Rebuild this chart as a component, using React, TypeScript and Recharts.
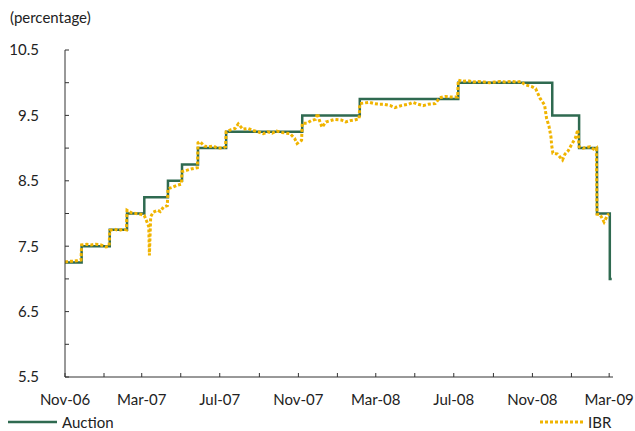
import { LineChart, Line, XAxis, YAxis } from 'recharts';

const auctionDates = [
  '2006-11-01', '2006-11-27', '2007-01-10', '2007-02-06', '2007-03-05', '2007-04-11',
  '2007-05-03', '2007-05-28', '2007-07-11', '2007-11-07', '2008-02-05', '2008-07-08',
  '2008-12-02', '2009-01-13', '2009-02-10', '2009-03-02', '2009-03-05',
];
const auctionRates = [
  7.25, 7.5, 7.75, 8.0, 8.25, 8.5, 8.75, 9.0, 9.25, 9.5, 9.75, 10.0, 9.5, 9.0, 8.0, 7.0, 7.0,
];

const ibrDates = [
  '2006-11-01', '2006-11-08', '2006-11-15', '2006-11-21', '2006-11-26', '2006-11-27',
  '2006-12-05', '2006-12-12', '2006-12-19', '2006-12-27', '2007-01-04', '2007-01-09',
  '2007-01-10', '2007-01-17', '2007-01-24', '2007-01-31', '2007-02-05', '2007-02-06',
  '2007-02-13', '2007-02-20', '2007-02-27', '2007-03-05', '2007-03-08', '2007-03-10',
  '2007-03-12', '2007-03-13', '2007-03-15', '2007-03-19', '2007-03-26', '2007-03-30',
  '2007-04-04', '2007-04-10', '2007-04-11', '2007-04-18', '2007-04-25', '2007-05-02',
  '2007-05-03', '2007-05-10', '2007-05-17', '2007-05-27', '2007-05-28', '2007-05-31',
  '2007-06-07', '2007-06-14', '2007-06-21', '2007-06-28', '2007-07-05', '2007-07-10',
  '2007-07-11', '2007-07-18', '2007-07-25', '2007-07-30', '2007-08-06', '2007-08-14',
  '2007-08-22', '2007-08-30', '2007-09-07', '2007-09-14', '2007-09-21', '2007-09-28',
  '2007-10-05', '2007-10-12', '2007-10-19', '2007-10-26', '2007-10-30', '2007-11-06',
  '2007-11-07', '2007-11-14', '2007-11-21', '2007-11-28', '2007-12-01', '2007-12-04',
  '2007-12-08', '2007-12-14', '2007-12-21', '2007-12-28', '2008-01-07', '2008-01-14',
  '2008-01-21', '2008-01-28', '2008-02-04', '2008-02-05', '2008-02-12', '2008-02-20',
  '2008-02-28', '2008-03-07', '2008-03-14', '2008-03-24', '2008-03-31', '2008-04-10',
  '2008-04-21', '2008-04-28', '2008-05-06', '2008-05-14', '2008-05-22', '2008-06-02',
  '2008-06-09', '2008-06-18', '2008-06-26', '2008-07-07', '2008-07-08', '2008-07-15',
  '2008-07-23', '2008-07-31', '2008-08-08', '2008-08-18', '2008-08-26', '2008-09-03',
  '2008-09-11', '2008-09-19', '2008-09-29', '2008-10-07', '2008-10-14', '2008-10-20',
  '2008-10-31', '2008-11-06', '2008-11-13', '2008-11-20', '2008-11-23', '2008-11-27',
  '2008-11-30', '2008-12-01', '2008-12-03', '2008-12-10', '2008-12-18', '2008-12-22',
  '2008-12-27', '2009-01-01', '2009-01-07', '2009-01-11', '2009-01-13', '2009-01-19',
  '2009-01-30', '2009-02-07', '2009-02-09', '2009-02-10', '2009-02-15', '2009-02-21',
  '2009-02-27', '2009-03-01',
];
const ibrRates = [
  7.26, 7.27, 7.27, 7.28, 7.29, 7.52,
  7.53, 7.52, 7.53, 7.52, 7.49, 7.5,
  7.74, 7.76, 7.74, 7.76, 7.75, 8.05,
  8.01, 8.0, 7.99, 7.97, 7.9, 7.85,
  7.8, 7.36, 7.95, 8.02, 8.05, 8.03,
  8.1, 8.12, 8.38, 8.4, 8.43, 8.45,
  8.64, 8.66, 8.68, 8.7, 9.08, 9.1,
  9.03, 9.02, 9.03, 9.0, 9.0, 9.02,
  9.25, 9.28, 9.3, 9.37, 9.29, 9.3,
  9.27, 9.25, 9.22, 9.25, 9.23, 9.26,
  9.24, 9.23, 9.22, 9.15, 9.07, 9.12,
  9.38, 9.38, 9.42, 9.44, 9.53, 9.42,
  9.32, 9.4, 9.42, 9.44, 9.43, 9.4,
  9.42, 9.43, 9.45, 9.68, 9.69, 9.7,
  9.68, 9.67, 9.67, 9.65, 9.62, 9.65,
  9.67, 9.7, 9.67, 9.65, 9.67, 9.68,
  9.77, 9.79, 9.78, 9.78, 10.04, 10.02,
  10.03, 10.01, 10.02, 10.01, 10.0, 10.01,
  10.02, 10.01, 10.02, 10.01, 10.02, 9.97,
  9.94, 9.91, 9.76, 9.66, 9.46, 9.33,
  9.17, 9.05, 8.92, 8.91, 8.82, 8.91,
  8.96, 9.05, 9.15, 9.28, 9.02, 9.0,
  9.02, 8.97, 8.99, 7.99, 7.98, 7.87,
  7.98, 7.99,
];

const xTickDates = [
  '2006-11-01', '2007-01-01', '2007-03-01', '2007-05-01', '2007-07-01', '2007-09-01',
  '2007-11-01', '2008-01-01', '2008-03-01', '2008-05-01', '2008-07-01', '2008-09-01',
  '2008-11-01', '2009-01-01', '2009-03-01',
];
const yTicks = [5.5, 6, 6.5, 7, 7.5, 8, 8.5, 9, 9.5, 10, 10.5];
const monthNames = ['Jan', 'Feb', 'Mar', 'Apr', 'May', 'Jun', 'Jul', 'Aug', 'Sep', 'Oct', 'Nov', 'Dec'];

const START = Date.UTC(2006, 10, 1);
const dayOf = (s: string) => {
  const [y, m, d] = s.split('-').map(Number);
  return (Date.UTC(y, m - 1, d) - START) / 86400000;
};

const auctionData = auctionDates.map((d, i) => ({ day: dayOf(d), value: auctionRates[i] }));
const ibrData = ibrDates.map((d, i) => ({ day: dayOf(d), value: ibrRates[i] }));
const xTicks = xTickDates.map(dayOf);

// label only every other tick (every 4 months)
const formatX = (v: number) => {
  const idx = xTicks.indexOf(v);
  if (idx < 0 || idx % 2 !== 0) return '';
  const dt = new Date(START + v * 86400000);
  return `${monthNames[dt.getUTCMonth()]}-${String(dt.getUTCFullYear()).slice(2)}`;
};
const formatY = (v: number) => (v % 1 === 0.5 ? v.toFixed(1) : '');

const GREEN = '#2F6A50';
const YELLOW = '#F0B400';
const FONT = 'Lato, sans-serif';

const App = () => {
  return (
    <div style={{ position: 'absolute', left: 0, top: 0, width: 635, height: 431, fontFamily: FONT, color: '#222' }}>
      <div style={{ position: 'absolute', left: 10, top: 9, fontSize: 15, lineHeight: '16px' }}>(percentage)</div>
      <LineChart width={635} height={431} data={auctionData} margin={{ top: 50, right: 22, left: 0, bottom: 24 }}>
        <XAxis
          dataKey="day"
          type="number"
          domain={[0, 857]}
          ticks={xTicks}
          tickFormatter={formatX}
          interval={0}
          height={30}
          tickSize={-4}
          tickMargin={21}
          stroke="#333"
          tick={{ fill: '#222', fontSize: 15, fontFamily: FONT }}
          allowDataOverflow
        />
        <YAxis
          type="number"
          domain={[5.5, 10.5]}
          ticks={yTicks}
          tickFormatter={formatY}
          interval={0}
          width={65}
          tickSize={-4}
          tickMargin={30}
          stroke="#333"
          tick={{ fill: '#222', fontSize: 15, fontFamily: FONT }}
        />
        <Line
          data={auctionData}
          dataKey="value"
          type="stepAfter"
          stroke={GREEN}
          strokeWidth={2.5}
          dot={false}
          isAnimationActive={false}
        />
        <Line
          data={ibrData}
          dataKey="value"
          type="linear"
          stroke={YELLOW}
          strokeWidth={3}
          strokeDasharray="3 2"
          dot={false}
          isAnimationActive={false}
        />
      </LineChart>
      <div style={{ position: 'absolute', left: 8, top: 415, display: 'flex', alignItems: 'center', fontSize: 15, lineHeight: '14px' }}>
        <svg width={50} height={10}>
          <line x1={0} y1={5} x2={49} y2={5} stroke={GREEN} strokeWidth={2.5} />
        </svg>
        <span style={{ marginLeft: 4 }}>Auction</span>
      </div>
      <div style={{ position: 'absolute', left: 540, top: 415, display: 'flex', alignItems: 'center', fontSize: 15, lineHeight: '14px' }}>
        <svg width={44} height={10}>
          <line x1={0} y1={5} x2={43} y2={5} stroke={YELLOW} strokeWidth={3} strokeDasharray="3 2" />
        </svg>
        <span style={{ marginLeft: 4 }}>IBR</span>
      </div>
    </div>
  );
};

export default App;
